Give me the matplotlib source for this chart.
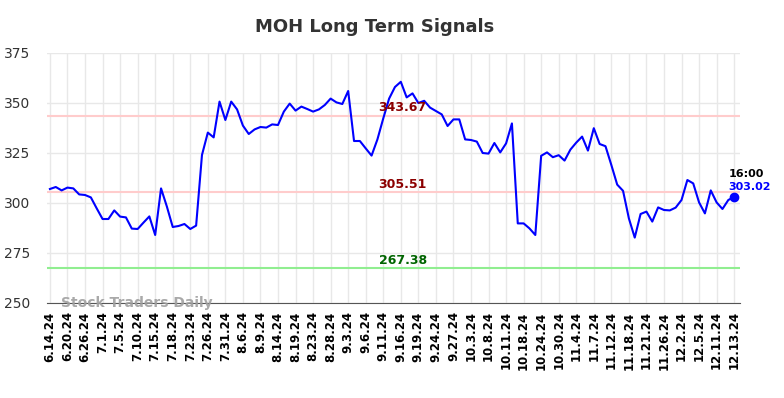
import matplotlib
matplotlib.use("Agg")
import matplotlib.pyplot as plt
import numpy as np

title = "MOH Long Term Signals"
tick_labels = ["6.14.24", "6.20.24", "6.26.24", "7.1.24", "7.5.24", "7.10.24", "7.15.24",
               "7.18.24", "7.23.24", "7.26.24", "7.31.24", "8.6.24", "8.9.24", "8.14.24",
               "8.19.24", "8.23.24", "8.28.24", "9.3.24", "9.6.24", "9.11.24", "9.16.24",
               "9.19.24", "9.24.24", "9.27.24", "10.3.24", "10.8.24", "10.11.24", "10.18.24",
               "10.24.24", "10.30.24", "11.4.24", "11.7.24", "11.12.24", "11.18.24",
               "11.21.24", "11.26.24", "12.2.24", "12.5.24", "12.11.24", "12.13.24"]

prices = [307.0, 308.0, 306.3, 307.7, 307.3, 304.3, 304.0, 302.8, 297.3, 292.0,
          292.0, 296.3, 293.2, 292.8, 287.2, 287.0, 290.2, 293.3, 284.0, 307.3,
          298.2, 288.0, 288.5, 289.5, 287.0, 288.7, 324.0, 335.2, 332.8, 350.7,
          341.5, 350.7, 346.8, 338.7, 334.5, 336.8, 338.0, 337.7, 339.3, 339.0,
          345.7, 349.7, 346.2, 348.2, 347.0, 345.7, 346.8, 349.0, 352.2, 350.3,
          349.5, 356.0, 331.0, 331.0, 327.3, 323.7, 331.8, 342.3, 352.2, 358.0,
          360.6, 352.8, 354.8, 350.0, 351.1, 347.7, 346.0, 344.3, 338.5, 341.8,
          341.8, 331.8, 331.5, 330.7, 325.0, 324.7, 330.0, 325.3, 329.8, 339.8,
          289.8, 289.8, 287.3, 284.0, 323.6, 325.3, 322.9, 323.9, 321.2, 326.7,
          330.2, 333.2, 326.2, 337.4, 329.5, 328.4, 319.0, 309.2, 306.1, 292.3,
          282.7, 294.5, 295.7, 290.7, 297.8, 296.5, 296.3, 297.7, 301.5, 311.5,
          309.8, 300.3, 294.8, 306.3, 300.3, 297.0, 301.5, 303.02]

upper_level = 343.67
mid_level = 305.51
lower_level = 267.38
last_time = "16:00"

fig = plt.figure(figsize=(7.84, 3.98), dpi=100)
ax = fig.add_axes([47/784, 1-303/398, (740-47)/784, (303-53)/398])

x = np.arange(len(prices))
ax.plot(x, prices, color="#0000ff", lw=1.5, zorder=3)
ax.plot(x[-1], prices[-1], "o", color="#0000ff", ms=6, zorder=4)

ax.axhline(upper_level, color="#ffcccc", lw=1.5, zorder=2)
ax.axhline(mid_level, color="#ffcccc", lw=1.5, zorder=2)
ax.axhline(lower_level, color="#90ee90", lw=1.5, zorder=2)

xm = 60.3
ax.text(xm, upper_level + 0.6, f"{upper_level:.2f}", color="#8b0000", fontsize=9,
        fontweight="bold", ha="center", va="bottom", zorder=5)
ax.text(xm, mid_level + 0.6, f"{mid_level:.2f}", color="#8b0000", fontsize=9,
        fontweight="bold", ha="center", va="bottom", zorder=5)
ax.text(xm, lower_level + 0.6, f"{lower_level:.2f}", color="#006400", fontsize=9,
        fontweight="bold", ha="center", va="bottom", zorder=5)

ax.text(x[-1] - 1.0, prices[-1] + 9.0, last_time, color="black", fontsize=8,
        fontweight="bold", ha="left", va="bottom")
ax.text(x[-1] - 1.0, prices[-1] + 2.5, f"{prices[-1]:.2f}", color="#0000ff", fontsize=8,
        fontweight="bold", ha="left", va="bottom")

ax.text(0.02, 0.0, "Stock Traders Daily", transform=ax.transAxes, color="#a0a0a0",
        fontsize=10, fontweight="bold", ha="left", va="center", alpha=0.9)

ticks = np.arange(0, len(prices), 3)
ax.set_xticks(ticks)
ax.set_xticklabels(tick_labels, rotation=90, fontsize=8.5, fontweight="bold")
ax.set_yticks([250, 275, 300, 325, 350, 375])
ax.tick_params(axis="y", labelsize=10, length=0, pad=12, colors="#333333")
ax.tick_params(axis="x", length=0, pad=6)
ax.set_xlim(-0.5, 118)
ax.set_ylim(250, 375)

ax.grid(True, color="#e8e8e8", lw=1)
ax.set_axisbelow(True)
for s in ["top", "right", "left"]:
    ax.spines[s].set_visible(False)
ax.spines["bottom"].set_color("#555555")

fig.text(375/784, 1-27/398, title, fontsize=13, fontweight="bold", color="#333333",
         ha="center", va="center")

fig.savefig("out.png", dpi=100)
